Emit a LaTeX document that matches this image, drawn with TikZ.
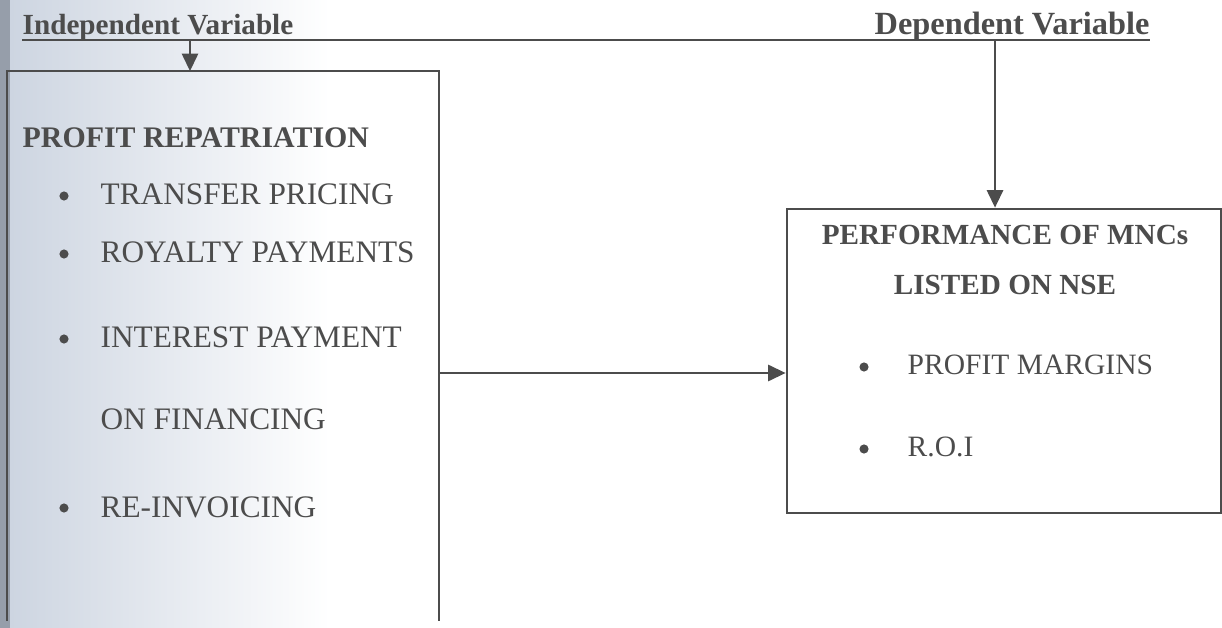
\documentclass[tikz,border=0pt]{standalone}
\usepackage{fontspec}
\setmainfont{Liberation Serif}
\usetikzlibrary{arrows.meta}
\definecolor{ink}{HTML}{4C4C4C}
\definecolor{scanA}{RGB}{150,158,170}
\definecolor{scanB}{RGB}{205,213,225}
\tikzset{
  lbl/.style={anchor=base west, inner sep=0pt, text=ink, font=\fontsize{8.9}{10}\selectfont},
  rlbl/.style={lbl, font=\fontsize{8.4}{10}\selectfont},
  head/.style={anchor=base west, inner sep=0pt, text=ink, font=\bfseries\fontsize{8.3}{10}\selectfont},
  dot/.style={circle, fill=ink, inner sep=0pt, minimum size=2.6pt},
  frame/.style={draw=ink, line width=0.7pt},
  arr/.style={draw=ink, line width=0.7pt, -{Triangle[length=5pt,width=4.6pt]}},
  ghost/.style={draw=none, inner sep=0pt}
}
\begin{document}
\begin{tikzpicture}[x=0.01cm,y=-0.01cm]
\useasboundingbox (0,0) rectangle (1222,628);
% scan shading at the left edge
\shade[left color=scanB, right color=white] (10,0) rectangle (330,628);
\fill[scanA] (0,0) rectangle (10,628);
% headings
\node[head] (iv) at (22,35) {Independent Variable};
\node[head, font=\bfseries\fontsize{9.2}{10}\selectfont] (dv) at (874,35) {Dependent Variable};
\coordinate (tl) at (22,40);
\coordinate (tr) at (1150,40);
\draw[frame] (tl) -- (tr);
\coordinate (ia) at (190,40);
\coordinate (da) at (995,40);
% boxes
\node[ghost, minimum width=4.30cm, minimum height=5.48cm] (lbox) at (223,346) {};
\draw[frame] (lbox.south west) |- (lbox.north east) -- (lbox.south east);
\node[ghost, frame, minimum width=4.34cm, minimum height=3.04cm] (rbox) at (1004,361) {};
% connectors
\draw[arr] (ia) -- (ia |- lbox.north);
\draw[arr] (da) -- (da |- rbox.north);
\coordinate (h) at (600,373);
\draw[arr] (lbox.east |- h) -- (rbox.west |- h);
% left box text
\node[head, font=\bfseries\fontsize{8.5}{10}\selectfont] (pr) at (22,148) {PROFIT REPATRIATION};
\node[dot] (b1) at (64,196) {};
\node[lbl] (t1) at (100,205) {TRANSFER PRICING};
\node[dot] (b2) at (64,254) {};
\node[lbl] (t2) at (100,263) {ROYALTY PAYMENTS};
\node[dot] (b3) at (64,339) {};
\node[lbl] (t3) at (100,348) {INTEREST PAYMENT};
\node[lbl] (t3b) at (100,430) {ON FINANCING};
\node[dot] (b4) at (64,508) {};
\node[lbl] (t4) at (100,517) {RE-INVOICING};
% right box text
\node[head, anchor=base] (p1) at (1005,245) {PERFORMANCE OF MNCs};
\node[head, anchor=base] (p2) at (1005,295) {LISTED ON NSE};
\node[dot] (b5) at (864,367) {};
\node[rlbl] (r1) at (907,375) {PROFIT MARGINS};
\node[dot] (b6) at (864,449) {};
\node[rlbl] (r2) at (907,457) {R.O.I};
\end{tikzpicture}
\end{document}
